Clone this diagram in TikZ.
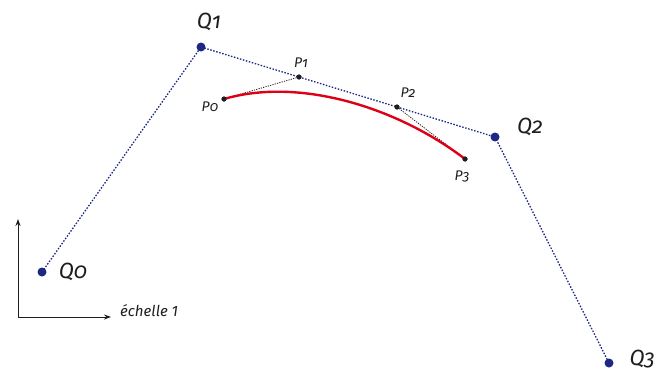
\documentclass[tikz,border=0pt]{standalone}
\usepackage{fontspec}
\setmainfont{Fira Sans}[Numbers=OldStyle]
\usetikzlibrary{arrows.meta}
\definecolor{navy}{RGB}{28,40,130}
\definecolor{cred}{RGB}{222,0,22}
\definecolor{ink}{RGB}{30,30,30}
\begin{document}
\begin{tikzpicture}[x=1pt,y=-1pt,
  qdot/.style={circle,fill=navy,inner sep=0pt,minimum size=9pt},
  pdot/.style={circle,fill=ink,inner sep=0pt,minimum size=5pt},
  qlab/.style={text=ink,font=\fontsize{22}{22}\selectfont\itshape,inner sep=0pt},
  plab/.style={text=ink,font=\fontsize{14}{14}\selectfont\itshape,inner sep=0pt},
  ctrl/.style={navy,line width=1.3pt,dash pattern=on 1.5pt off 1.6pt},
  hull/.style={ink,line width=0.8pt,dash pattern=on 1.2pt off 1.2pt},
  axis/.style={ink,line width=1pt,-{Stealth[length=7pt,width=5pt]}}]
\useasboundingbox (0,0) rectangle (658,372);
\node[qdot] (q0) at (42,272) {};
\node[qdot] (q1) at (201,47) {};
\node[qdot] (q2) at (495,137) {};
\node[qdot] (q3) at (609,363) {};
\node[pdot] (p0) at (224,99) {};
\node[pdot] (p1) at (299,77) {};
\node[pdot] (p2) at (397,107) {};
\node[pdot] (p3) at (465,159) {};
\draw[ctrl] (q0.center) -- (q1.center) -- (q2.center) -- (q3.center);
\draw[hull] (p0.center) -- (p1.center);
\draw[hull] (p2.center) -- (p3.center);
\draw[cred,line width=2.4pt] (p0.center) .. controls (p1.center) and (p2.center) .. (p3.center);
\node[pdot] at (p0) {};
\node[pdot] at (p1) {};
\node[pdot] at (p2) {};
\node[pdot] at (p3) {};
\node[qlab] (lq0) at (73,272) {Q0};
\node[qlab] (lq1) at (209,22) {Q1};
\node[qlab] (lq2) at (530,127) {Q2};
\node[qlab,anchor=east] (lq3) at (655,359) {Q3};
\node[plab] (lp0) at (210,107) {P0};
\node[plab] (lp1) at (301,63) {P1};
\node[plab] (lp2) at (408,93) {P2};
\node[plab] (lp3) at (462,176) {P3};
\coordinate (o) at (18,317);
\coordinate (ytip) at (18,219);
\coordinate (xtip) at (111,317);
\draw[axis] (o) -- (ytip);
\draw[axis] (o) -- (xtip);
\node[plab,anchor=west,font=\fontsize{15}{15}\selectfont\itshape\addfontfeatures{Numbers=Lining}] (sc) at (120,311) {échelle 1};
\end{tikzpicture}
\end{document}
